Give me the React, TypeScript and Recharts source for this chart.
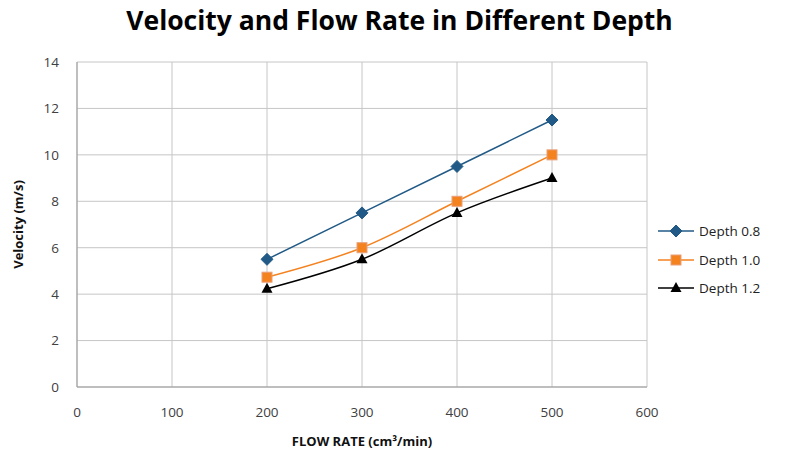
import React from "react";
import {
  CartesianGrid,
  Line,
  LineChart,
  XAxis,
  YAxis
} from "recharts";

const flowRates = [200, 300, 400, 500];
const depth08 = [5.5, 7.5, 9.5, 11.5];
const depth10 = [4.73, 6, 8, 10];
const depth12 = [4.23, 5.5, 7.5, 9];
const xTicks = [0, 100, 200, 300, 400, 500, 600];
const yTicks = [0, 2, 4, 6, 8, 10, 12, 14];

const data = flowRates.map((flow, i) => ({
  flow,
  d08: depth08[i],
  d10: depth10[i],
  d12: depth12[i]
}));

const FONT = "'Open Sans', 'Liberation Sans', sans-serif";
const BLUE = "#215a86";
const ORANGE = "#f4821f";
const BLACK = "#000000";

type DotProps = { cx?: number; cy?: number };

const Diamond = ({ cx = 0, cy = 0 }: DotProps) => (
  <polygon
    points={`${cx},${cy - 6} ${cx + 6},${cy} ${cx},${cy + 6} ${cx - 6},${cy}`}
    fill={BLUE}
    stroke={BLUE}
  />
);

const Square = ({ cx = 0, cy = 0 }: DotProps) => (
  <rect x={cx - 5} y={cy - 5} width={10} height={10} fill={ORANGE} stroke="#e8a07a" strokeWidth={1} />
);

const Triangle = ({ cx = 0, cy = 0 }: DotProps) => (
  <polygon
    points={`${cx},${cy - 6} ${cx + 5.5},${cy + 4} ${cx - 5.5},${cy + 4}`}
    fill={BLACK}
  />
);

const series = [
  { key: "d08", name: "Depth 0.8", color: BLUE, Marker: Diamond },
  { key: "d10", name: "Depth 1.0", color: ORANGE, Marker: Square },
  { key: "d12", name: "Depth 1.2", color: BLACK, Marker: Triangle }
];

// legend sits beside the plot, outside the chart so it doesn't eat plot height
const LegendBox = () => (
  <div
    style={{
      position: "absolute",
      left: 658,
      top: 217,
      fontFamily: FONT,
      fontSize: 13.5,
      color: "#222"
    }}
  >
    {series.map((s) => (
      <div key={s.key} style={{ display: "flex", alignItems: "center", height: 28.5 }}>
        <svg width={38} height={14}>
          <line x1={0} y1={7} x2={36} y2={7} stroke={s.color} strokeWidth={1.5} />
          <s.Marker cx={18} cy={7} />
        </svg>
        <span style={{ marginLeft: 3 }}>{s.name}</span>
      </div>
    ))}
  </div>
);

export default function App() {
  return (
    <div
      style={{
        position: "absolute",
        left: 0,
        top: 0,
        width: 799,
        height: 452,
        background: "#fff",
        fontFamily: FONT
      }}
    >
      <div
        style={{
          position: "absolute",
          top: 2,
          left: 0,
          width: 799,
          textAlign: "center",
          fontSize: 26.5,
          fontWeight: 700,
          color: "#000",
          zIndex: 1
        }}
      >
        Velocity and Flow Rate in Different Depth
      </div>
      <LineChart
        width={799}
        height={452}
        data={data}
        margin={{ top: 62, right: 152, bottom: 30, left: 20 }}
      >
        <CartesianGrid stroke="#c6c6c6" strokeWidth={1} />
        <XAxis
          dataKey="flow"
          type="number"
          domain={[0, 600]}
          ticks={xTicks}
          height={35}
          stroke="#999"
          tickLine={false}
          tickMargin={14}
          tick={{ fill: "#404040", fontSize: 13.5, fontFamily: FONT }}
          label={{
            value: "FLOW RATE (cm³/min)",
            position: "insideBottom",
            offset: -24,
            fill: "#111",
            fontSize: 13,
            fontWeight: 700,
            fontFamily: FONT
          }}
        />
        <YAxis
          type="number"
          domain={[0, 14]}
          ticks={yTicks}
          width={57}
          stroke="#999"
          tickLine={false}
          tickMargin={12}
          tick={{ fill: "#404040", fontSize: 13.5, fontFamily: FONT }}
          label={{
            value: "Velocity (m/s)",
            angle: -90,
            position: "insideLeft",
            offset: -2,
            style: { textAnchor: "middle" },
            fill: "#111",
            fontSize: 13,
            fontWeight: 700,
            fontFamily: FONT
          }}
        />
        <Line
          dataKey="d08"
          name="Depth 0.8"
          type="linear"
          stroke={BLUE}
          strokeWidth={1.5}
          dot={<Diamond />}
          activeDot={false}
          isAnimationActive={false}
        />
        <Line
          dataKey="d10"
          name="Depth 1.0"
          type="monotone"
          stroke={ORANGE}
          strokeWidth={1.5}
          dot={<Square />}
          activeDot={false}
          isAnimationActive={false}
        />
        <Line
          dataKey="d12"
          name="Depth 1.2"
          type="monotone"
          stroke={BLACK}
          strokeWidth={1.5}
          dot={<Triangle />}
          activeDot={false}
          isAnimationActive={false}
        />
      </LineChart>
      <LegendBox />
    </div>
  );
}
